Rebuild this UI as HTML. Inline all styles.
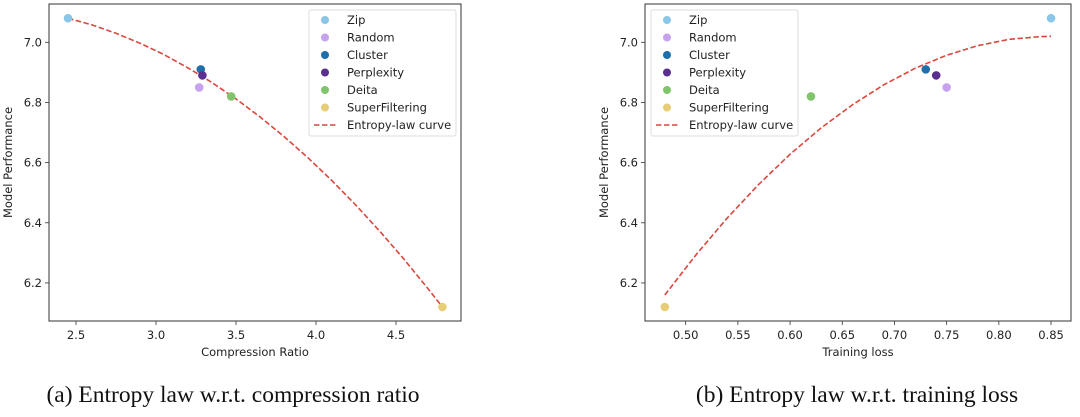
<!DOCTYPE html>
<html><head><meta charset="utf-8"><style>
html,body{margin:0;padding:0;background:#fff;}
svg{display:block;}
text{font-family:"DejaVu Sans","Liberation Sans",sans-serif;fill:#222;}
.cap{font-family:"Liberation Serif",serif;font-size:23.5px;fill:#111;}
</style></head><body>
<svg id="fig" width="1080" height="417" viewBox="0 0 1080 417">
<text class="cap" x="233" y="402" text-anchor="middle">(a) Entropy law w.r.t. compression ratio</text>
<text class="cap" x="857" y="402" text-anchor="middle">(b) Entropy law w.r.t. training loss</text>
</svg>
<script>
const seriesNames=["Zip","Random","Cluster","Perplexity","Deita","SuperFiltering"];
const seriesColors=["#8ac6e8","#c6a2ef","#1f70aa","#5a2f8f","#80c46b","#e9cd76"];
const perfValues=[7.08,6.85,6.91,6.89,6.82,6.12];
const compressionRatio=[2.45,3.27,3.28,3.29,3.47,4.79];
const trainingLoss=[0.85,0.75,0.73,0.74,0.62,0.48];
const curveAX=[2.45,2.60,2.75,2.90,3.05,3.20,3.35,3.50,3.65,3.80,3.95,4.10,4.25,4.40,4.55,4.70,4.79];
const curveAY=[7.08,7.058,7.030,6.997,6.959,6.915,6.866,6.812,6.752,6.687,6.616,6.540,6.458,6.371,6.279,6.181,6.12];
const curveBX=[0.48,0.51,0.54,0.57,0.60,0.63,0.66,0.69,0.72,0.75,0.78,0.81,0.84,0.85];
const curveBY=[6.160,6.294,6.417,6.528,6.628,6.716,6.793,6.859,6.914,6.957,6.989,7.010,7.019,7.02];
const xTicksA=[2.5,3.0,3.5,4.0,4.5];
const xTickLabelsA=["2.5","3.0","3.5","4.0","4.5"];
const xTicksB=[0.50,0.55,0.60,0.65,0.70,0.75,0.80,0.85];
const xTickLabelsB=["0.50","0.55","0.60","0.65","0.70","0.75","0.80","0.85"];
const yTicks=[6.2,6.4,6.6,6.8,7.0];
const yTickLabels=["6.2","6.4","6.6","6.8","7.0"];

const NS="http://www.w3.org/2000/svg";
const svg=document.getElementById('fig');
function mk(tag,attrs,parent){const e=document.createElementNS(NS,tag);for(const k in attrs)e.setAttribute(k,attrs[k]);(parent||svg).appendChild(e);return e;}

function panel(id,box,xTicks,xLabels,xFn,yFn,xs,cx,cy,xTitle,legX){
  const g=mk('g',{});
  
  
  xTicks.forEach((t,i)=>{
    const x=xFn(t);
    const tk=mk('line',{x1:x,x2:x,y1:box.b,y2:box.b+4,stroke:'#333','stroke-width':0.8},g);
    
    
    const tl=mk('text',{x:x,y:box.b+18,'text-anchor':'middle','font-size':11.5},g);
    tl.textContent=xLabels[i];
    
    
  });
  yTicks.forEach((t,i)=>{
    const y=yFn(t);
    const tk=mk('line',{x1:box.l-4,x2:box.l,y1:y,y2:y,stroke:'#333','stroke-width':0.8},g);
    
    
    const tl=mk('text',{x:box.l-7,y:y+4,'text-anchor':'end','font-size':11.5},g);
    tl.textContent=yTickLabels[i];
    
    
  });
  const xt=mk('text',{x:(box.l+box.r)/2,y:box.b+35,'text-anchor':'middle','font-size':11.5},g);
  xt.textContent=xTitle;
  
  
  const yx=box.l-37, ym=(box.t+box.b)/2;
  const yt=mk('text',{x:yx,y:ym,'text-anchor':'middle','font-size':11.5,transform:`rotate(-90 ${yx} ${ym})`},g);
  yt.textContent='Model Performance';
  
  
  const d=cx.map((v,i)=>(i?'L':'M')+xFn(v).toFixed(1)+','+yFn(cy[i]).toFixed(1)).join(' ');
  const c=mk('path',{d:d,fill:'none',stroke:'#d9473d','stroke-width':1.6,'stroke-dasharray':'5.5,2.5','stroke-linejoin':'round'},g);
  
  
  xs.forEach((v,i)=>{
    const p=mk('circle',{cx:xFn(v),cy:yFn(perfValues[i]),r:4.3,fill:seriesColors[i]},g);
    
    
  });
  const f=mk('rect',{x:box.l,y:box.t,width:box.r-box.l,height:box.b-box.t,fill:'none',stroke:'#333','stroke-width':1},g);
  
  
  const lg=mk('g',{},g);
  
  
  mk('rect',{x:legX,y:10,width:147,height:126,rx:2,fill:'#fff','fill-opacity':0.85,stroke:'#ddd','stroke-width':1},lg);
  seriesNames.forEach((n,i)=>{
    const y=20+i*17.5;
    const m=mk('circle',{cx:legX+16,cy:y,r:4,fill:seriesColors[i]},lg);
    
    
    const t=mk('text',{x:legX+38,y:y+4,'font-size':11.5},lg);
    t.textContent=n;
    
    
  });
  const y=20+6*17.5;
  const ll=mk('line',{x1:legX+5,x2:legX+29,y1:y,y2:y,stroke:'#d9473d','stroke-width':1.6,'stroke-dasharray':'5.5,2.5'},lg);
  
  
  const lt=mk('text',{x:legX+38,y:y+4,'font-size':11.5},lg);
  lt.textContent='Entropy-law curve';
  
  
}
const yFn=v=>42.3+(7.0-v)*300.8;
panel('compression',{l:49,r:461,t:4,b:321},xTicksA,xTickLabelsA,v=>76+(v-2.5)*160,yFn,compressionRatio,curveAX,curveAY,'Compression Ratio',309);
panel('training-loss',{l:645,r:1071,t:4,b:321},xTicksB,xTickLabelsB,v=>685.7+(v-0.5)*1043.8,yFn,trainingLoss,curveBX,curveBY,'Training loss',651);
</script>
</body></html>
